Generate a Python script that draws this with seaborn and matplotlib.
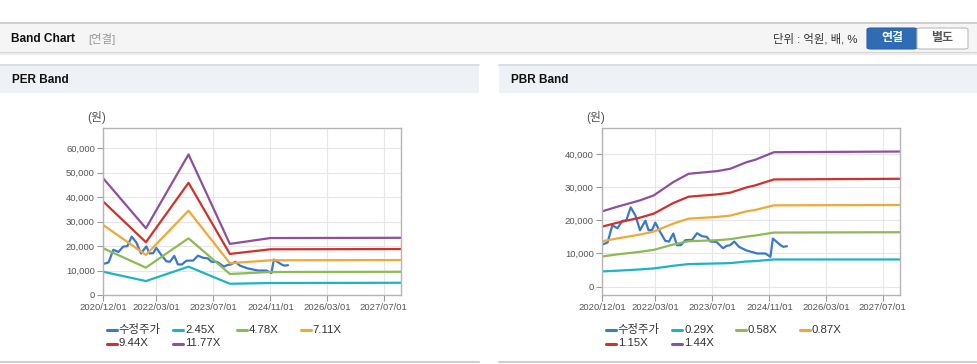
import pandas as pd
import matplotlib.pyplot as plt
import matplotlib.dates as mdates
from matplotlib.patches import Rectangle, FancyBboxPatch
from matplotlib.lines import Line2D
from matplotlib.ticker import FuncFormatter
import seaborn as sns

sns.set_style("white")
plt.rcParams['font.family'] = ['Liberation Sans', 'Noto Sans CJK KR', 'DejaVu Sans']

W, H = 978, 364

# adjusted share price (same series on both charts)
price_dates = ['2020-12-01', '2021-01-15', '2021-02-25', '2021-04-10', '2021-05-20',
               '2021-06-25', '2021-08-01', '2021-09-10', '2021-10-20', '2021-12-05',
               '2022-01-01', '2022-02-01', '2022-02-28', '2022-04-10', '2022-05-25',
               '2022-06-25', '2022-08-01', '2022-09-01', '2022-10-05', '2022-11-12',
               '2023-01-10', '2023-02-20', '2023-04-05', '2023-05-15', '2023-06-15',
               '2023-08-05', '2023-10-01', '2023-11-01', '2023-12-01', '2024-01-05',
               '2024-02-15', '2024-04-20', '2024-07-20', '2024-09-28', '2024-11-10',
               '2024-12-01', '2025-02-05', '2025-03-01', '2025-04-01']
price = [12700, 13300, 18500, 17600, 19800,
         20000, 23900, 21500, 17000, 19900,
         17000, 17100, 19300, 16500, 13800,
         13600, 16000, 12500, 12500, 14000,
         14100, 16100, 15200, 15000, 13600,
         13500, 11600, 12300, 12500, 13600,
         12000, 10900, 10000, 10000, 9000,
         14500, 12500, 12000, 12200]

# PER band
per_dates = ['2020-12-01', '2021-12-01', '2022-12-01', '2023-11-20', '2024-11-01', '2027-12-01']
per_labels = ['2.45X', '4.78X', '7.11X', '9.44X', '11.77X']
per_245 = [9500, 5700, 11600, 4600, 4900, 5000]
per_478 = [19100, 11200, 23200, 8600, 9400, 9500]
per_711 = [28600, 16400, 34500, 13000, 14200, 14300]
per_944 = [38200, 21600, 45900, 16800, 18700, 18800]
per_1177 = [47700, 27300, 57500, 20900, 23300, 23400]

# PBR band
pbr_dates = ['2020-12-01', '2021-04-01', '2021-10-20', '2022-02-15', '2022-08-01', '2022-12-10',
             '2023-08-10', '2023-12-01', '2024-04-20', '2024-07-01', '2024-12-10', '2027-12-01']
pbr_labels = ['0.29X', '0.58X', '0.87X', '1.15X', '1.44X']
pbr_029 = [4600, 4800, 5200, 5500, 6300, 6800, 7000, 7100, 7600, 7700, 8200, 8200]
pbr_058 = [9100, 9700, 10500, 11100, 12700, 13700, 14000, 14300, 15100, 15400, 16300, 16400]
pbr_087 = [13700, 14500, 15700, 16600, 19000, 20500, 21000, 21400, 22700, 23100, 24500, 24600]
pbr_115 = [18100, 19200, 20800, 22000, 25200, 27100, 27800, 28300, 29900, 30500, 32300, 32500]
pbr_144 = [22700, 24000, 26000, 27500, 31500, 34000, 34800, 35500, 37500, 38200, 40500, 40700]

x_ticks = ['2020-12-01', '2022-03-01', '2023-07-01', '2024-11-01', '2026-03-01', '2027-07-01']
price_label = '수정주가'
colors = ['#3a78c8', '#1db3c8', '#8dba55', '#f0a836', '#d2302b', '#8e4f9c']


def fx(px):
    return px / W


def fy(py):
    return 1 - py / H


def long_frame(band_dates, bands, labels):
    parts = [pd.DataFrame({'date': pd.to_datetime(price_dates), 'value': price, 'series': price_label})]
    for lab, vals in zip(labels, bands):
        parts.append(pd.DataFrame({'date': pd.to_datetime(band_dates), 'value': vals, 'series': lab}))
    return pd.concat(parts, ignore_index=True)


def add_rect(fig, x0, y0, x1, y1, **kw):
    fig.add_artist(Rectangle((fx(x0), fy(y1)), (x1 - x0) / W, (y1 - y0) / H,
                             transform=fig.transFigure, **kw))


def add_hline(fig, x0, x1, y, color, lw=1):
    fig.add_artist(Line2D([fx(x0), fx(x1)], [fy(y), fy(y)], transform=fig.transFigure,
                          color=color, lw=lw))


def draw_panel(fig, left_px, title, df, labels, ylim, yticks):
    # panel heading
    add_rect(fig, left_px - 103.3, 64, left_px - 103.3 + 479, 92.5, facecolor='#eef2f7', edgecolor='none')
    add_hline(fig, left_px - 103.3, left_px - 103.3 + 479, 64.5, '#d6dadf', 1.2)
    add_hline(fig, left_px - 103.3, left_px - 103.3 + 479, 361.5, '#d0d0d0', 1.5)
    fig.text(fx(left_px - 91.5), fy(80), title, fontsize=8.5, fontweight='bold',
             color='#111111', va='center', ha='left')

    ax = fig.add_axes([fx(left_px), fy(295), 297.7 / W, 166.7 / H])
    order = [price_label] + labels
    sns.lineplot(data=df, x='date', y='value', hue='series', hue_order=order,
                 palette=dict(zip(order, colors)), linewidth=1.6, legend=False,
                 estimator=None, ax=ax)
    ax.set_xlim(pd.Timestamp('2020-12-01'), pd.Timestamp('2027-11-25'))
    ax.set_ylim(*ylim)
    ax.set_yticks(yticks)
    ax.yaxis.set_major_formatter(FuncFormatter(lambda v, p: f'{v:,.0f}'))
    ax.set_xticks(pd.to_datetime(x_ticks))
    ax.xaxis.set_major_formatter(mdates.DateFormatter('%Y/%m/%d'))
    ax.set_xlabel('')
    ax.set_ylabel('')
    ax.grid(True, color='#e6e6e6', linewidth=0.8)
    ax.set_axisbelow(True)
    for s in ax.spines.values():
        s.set_color('#b4b4b4')
        s.set_linewidth(1.0)
    ax.tick_params(axis='both', which='major', length=4, width=0.8, color='#999999',
                   labelsize=6.8, labelcolor='#555555', pad=2, direction='out',
                   left=True, bottom=True)

    fig.text(fx(left_px - 16), fy(117), '(원)', fontsize=8.5, color='#555555',
             ha='left', va='center')

    # legend laid out like the original (two rows)
    col_off = [3.4, 70, 133.5, 197.5]
    slots = [(0, 0), (1, 0), (2, 0), (3, 0), (0, 1), (1, 1)]
    for name, c, (ci, ri) in zip(order, colors, slots):
        x0 = left_px + col_off[ci]
        y0 = 330 + ri * 13.5
        fig.add_artist(Line2D([fx(x0), fx(x0 + 10)], [fy(y0), fy(y0)],
                              transform=fig.transFigure, color=c, lw=2.2))
        fig.text(fx(x0 + 12), fy(y0), name, fontsize=8.2, color='#333333',
                 ha='left', va='center')
    return ax


fig = plt.figure(figsize=(W / 100, H / 100), dpi=100)
fig.patch.set_facecolor('white')

# top header bar
add_rect(fig, 0, 23, W, 52, facecolor='#f5f5f5', edgecolor='none')
add_hline(fig, 0, W, 22.8, '#c8c8c8', 1.2)
add_hline(fig, 0, W, 52.5, '#d4d4d4', 1.5)
add_hline(fig, 0, W, 54, '#ececec', 1.5)
fig.text(fx(11), fy(39), 'Band Chart', fontsize=8.6, fontweight='bold', color='#111111',
         ha='left', va='center')
fig.text(fx(88), fy(39), '[연결]', fontsize=8.2, color='#999999', ha='left', va='center')
fig.text(fx(858), fy(39), '단위 : 억원, 배, %', fontsize=8.2, color='#333333',
         ha='right', va='center')
fig.add_artist(FancyBboxPatch((fx(867), fy(49)), 50 / W, 21 / H,
                              boxstyle='round,pad=0,rounding_size=0.004',
                              transform=fig.transFigure, facecolor='#2e6db5',
                              edgecolor='#2a62a5', lw=0.8))
fig.add_artist(FancyBboxPatch((fx(917), fy(49)), 51 / W, 21 / H,
                              boxstyle='round,pad=0,rounding_size=0.004',
                              transform=fig.transFigure, facecolor='white',
                              edgecolor='#bbbbbb', lw=0.8))
fig.text(fx(892), fy(38.5), '연결', fontsize=8.6, fontweight='bold', color='white',
         ha='center', va='center')
fig.text(fx(942.5), fy(38.5), '별도', fontsize=8.6, fontweight='bold', color='#555555',
         ha='center', va='center')

per_df = long_frame(per_dates, [per_245, per_478, per_711, per_944, per_1177], per_labels)
pbr_df = long_frame(pbr_dates, [pbr_029, pbr_058, pbr_087, pbr_115, pbr_144], pbr_labels)

draw_panel(fig, 103.3, 'PER Band', per_df, per_labels, (0, 68200), range(0, 60001, 10000))
draw_panel(fig, 602.3, 'PBR Band', pbr_df, pbr_labels, (-2500, 47700), range(0, 40001, 10000))

fig.savefig('out.png', dpi=100)
